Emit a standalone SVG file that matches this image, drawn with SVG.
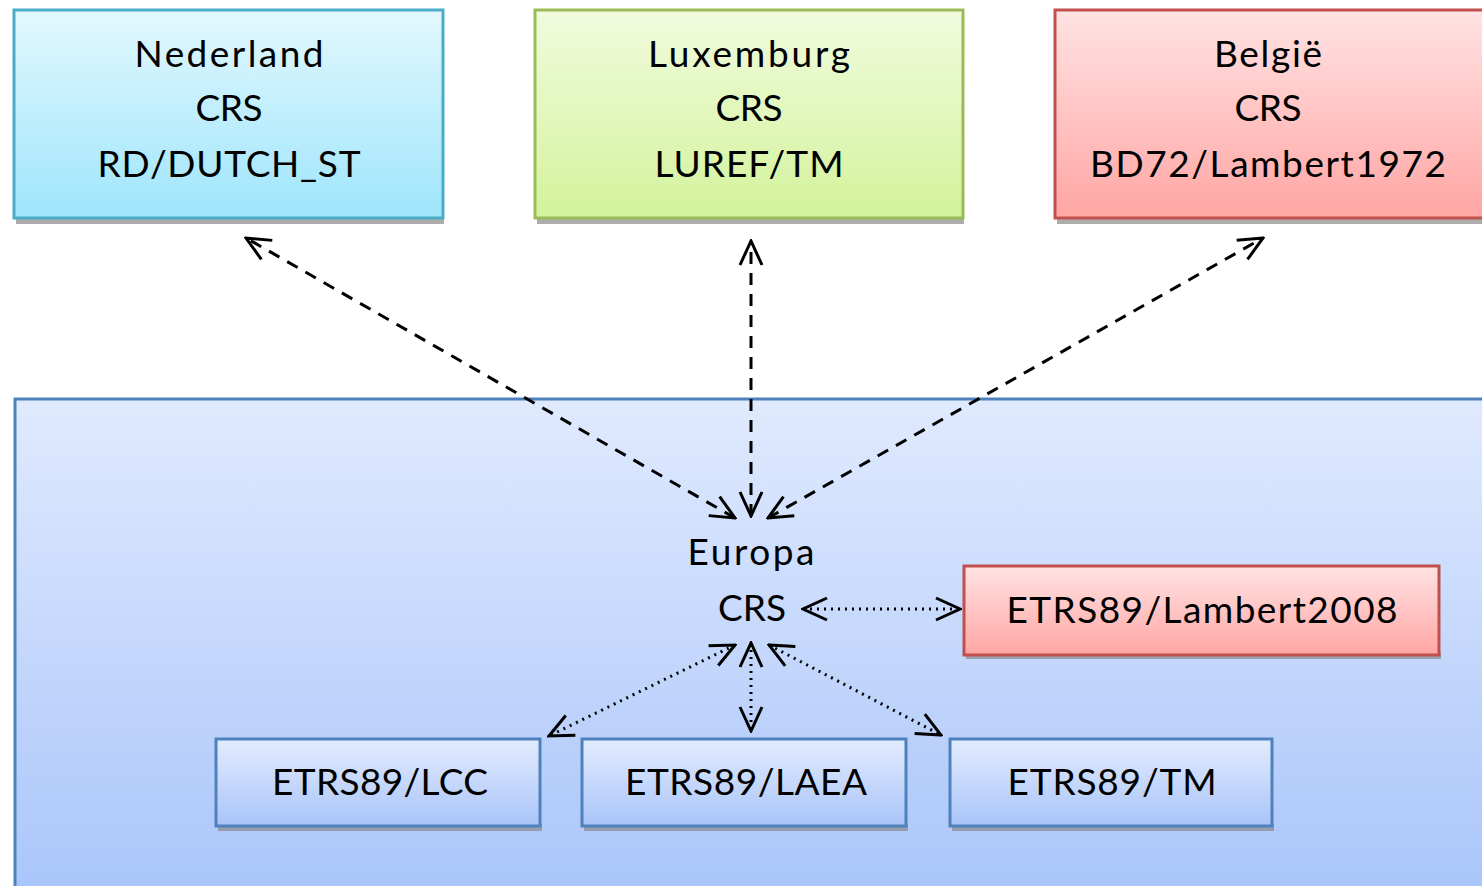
<svg xmlns="http://www.w3.org/2000/svg" width="1482" height="886" viewBox="0 0 1482 886">
<defs>
<linearGradient id="gBlue" x1="0" y1="0" x2="0" y2="1"><stop offset="0" stop-color="#e2f8fe"/><stop offset="1" stop-color="#9fe5fb"/></linearGradient>
<linearGradient id="gGreen" x1="0" y1="0" x2="0" y2="1"><stop offset="0" stop-color="#f1fbde"/><stop offset="1" stop-color="#d3f39b"/></linearGradient>
<linearGradient id="gRed" x1="0" y1="0" x2="0" y2="1"><stop offset="0" stop-color="#ffe3e3"/><stop offset="1" stop-color="#ffa6a4"/></linearGradient>
<linearGradient id="gCont" x1="0" y1="0" x2="0" y2="1"><stop offset="0" stop-color="#e0eafe"/><stop offset="1" stop-color="#a9c5fa"/></linearGradient>
<linearGradient id="gSmall" x1="0" y1="0" x2="0" y2="1"><stop offset="0" stop-color="#e3ecfe"/><stop offset="1" stop-color="#a9c4f8"/></linearGradient>
<marker id="ahs" viewBox="0 0 28 28" refX="26" refY="14" markerWidth="28" markerHeight="28" markerUnits="userSpaceOnUse" orient="auto-start-reverse">
<path d="M2,3 L26,14 L2,25" fill="none" stroke="#000" stroke-width="3"/>
</marker>
</defs>
<style>
text{font-family:"Lato","Open Sans",sans-serif;font-size:37px;fill:#000;text-anchor:middle}
.sh{fill:#8a8a8a;opacity:0.7}
.dash{stroke:#000;stroke-width:3;stroke-dasharray:12 9;fill:none}
.dot{stroke:#000;stroke-width:3;stroke-dasharray:2 5;fill:none}
</style>
<g id="europe-container">
<rect x="15" y="399" width="1480" height="500" fill="url(#gCont)" stroke="#4f81bd" stroke-width="3"/>
</g>
<g id="nederland">
<rect class="sh" x="16" y="214" width="428" height="10"/>
<rect x="14" y="10" width="429" height="208" fill="url(#gBlue)" stroke="#4bacc6" stroke-width="3"/>
<text x="229" y="67" textLength="189" lengthAdjust="spacing">Nederland</text>
<text x="229" y="121" textLength="67" lengthAdjust="spacing">CRS</text>
<text x="229" y="177" textLength="263" lengthAdjust="spacing">RD/DUTCH_ST</text>
</g>
<g id="luxemburg">
<rect class="sh" x="537" y="214" width="427" height="10"/>
<rect x="535" y="10" width="428" height="208" fill="url(#gGreen)" stroke="#9bbb59" stroke-width="3"/>
<text x="749" y="67" textLength="202" lengthAdjust="spacing">Luxemburg</text>
<text x="749" y="121" textLength="67" lengthAdjust="spacing">CRS</text>
<text x="749" y="177" textLength="189" lengthAdjust="spacing">LUREF/TM</text>
</g>
<g id="belgie">
<rect class="sh" x="1057" y="214" width="430" height="10"/>
<rect x="1055" y="10" width="440" height="208" fill="url(#gRed)" stroke="#c0504d" stroke-width="3"/>
<text x="1268" y="67" textLength="108" lengthAdjust="spacing">België</text>
<text x="1268" y="121" textLength="67" lengthAdjust="spacing">CRS</text>
<text x="1268" y="177" textLength="356" lengthAdjust="spacing">BD72/Lambert1972</text>
</g>
<g id="europa">
<text x="751" y="565" textLength="127" lengthAdjust="spacing">Europa</text>
<text x="752" y="621" textLength="68" lengthAdjust="spacing">CRS</text>
</g>
<g id="lambert2008">
<rect class="sh" x="966" y="652" width="475" height="7"/>
<rect x="964" y="566" width="475" height="89" fill="url(#gRed)" stroke="#c0504d" stroke-width="3"/>
<text x="1202" y="623" textLength="391" lengthAdjust="spacing">ETRS89/Lambert2008</text>
</g>
<g id="lcc">
<rect class="sh" x="218" y="824" width="324" height="7"/>
<rect x="216" y="739" width="324" height="87" fill="url(#gSmall)" stroke="#4f81bd" stroke-width="3"/>
<text x="380" y="795" textLength="216" lengthAdjust="spacing">ETRS89/LCC</text>
</g>
<g id="laea">
<rect class="sh" x="584" y="824" width="324" height="7"/>
<rect x="582" y="739" width="324" height="87" fill="url(#gSmall)" stroke="#4f81bd" stroke-width="3"/>
<text x="746" y="795" textLength="242" lengthAdjust="spacing">ETRS89/LAEA</text>
</g>
<g id="tm">
<rect class="sh" x="952" y="824" width="322" height="7"/>
<rect x="950" y="739" width="322" height="87" fill="url(#gSmall)" stroke="#4f81bd" stroke-width="3"/>
<text x="1112" y="795" textLength="209" lengthAdjust="spacing">ETRS89/TM</text>
</g>
<g id="connectors">
<path class="dash" d="M751,516 L751,241" marker-start="url(#ahs)" marker-end="url(#ahs)"/>
<path class="dash" d="M735,518 L246,238" marker-start="url(#ahs)" marker-end="url(#ahs)"/>
<path class="dash" d="M768,518 L1263,238" marker-start="url(#ahs)" marker-end="url(#ahs)"/>
<path class="dot" d="M803,609 L960,609" marker-start="url(#ahs)" marker-end="url(#ahs)"/>
<path class="dot" d="M751,643 L751,731" marker-start="url(#ahs)" marker-end="url(#ahs)"/>
<path class="dot" d="M735,645 L549,736" marker-start="url(#ahs)" marker-end="url(#ahs)"/>
<path class="dot" d="M769,645 L941,735" marker-start="url(#ahs)" marker-end="url(#ahs)"/>
</g>
</svg>
